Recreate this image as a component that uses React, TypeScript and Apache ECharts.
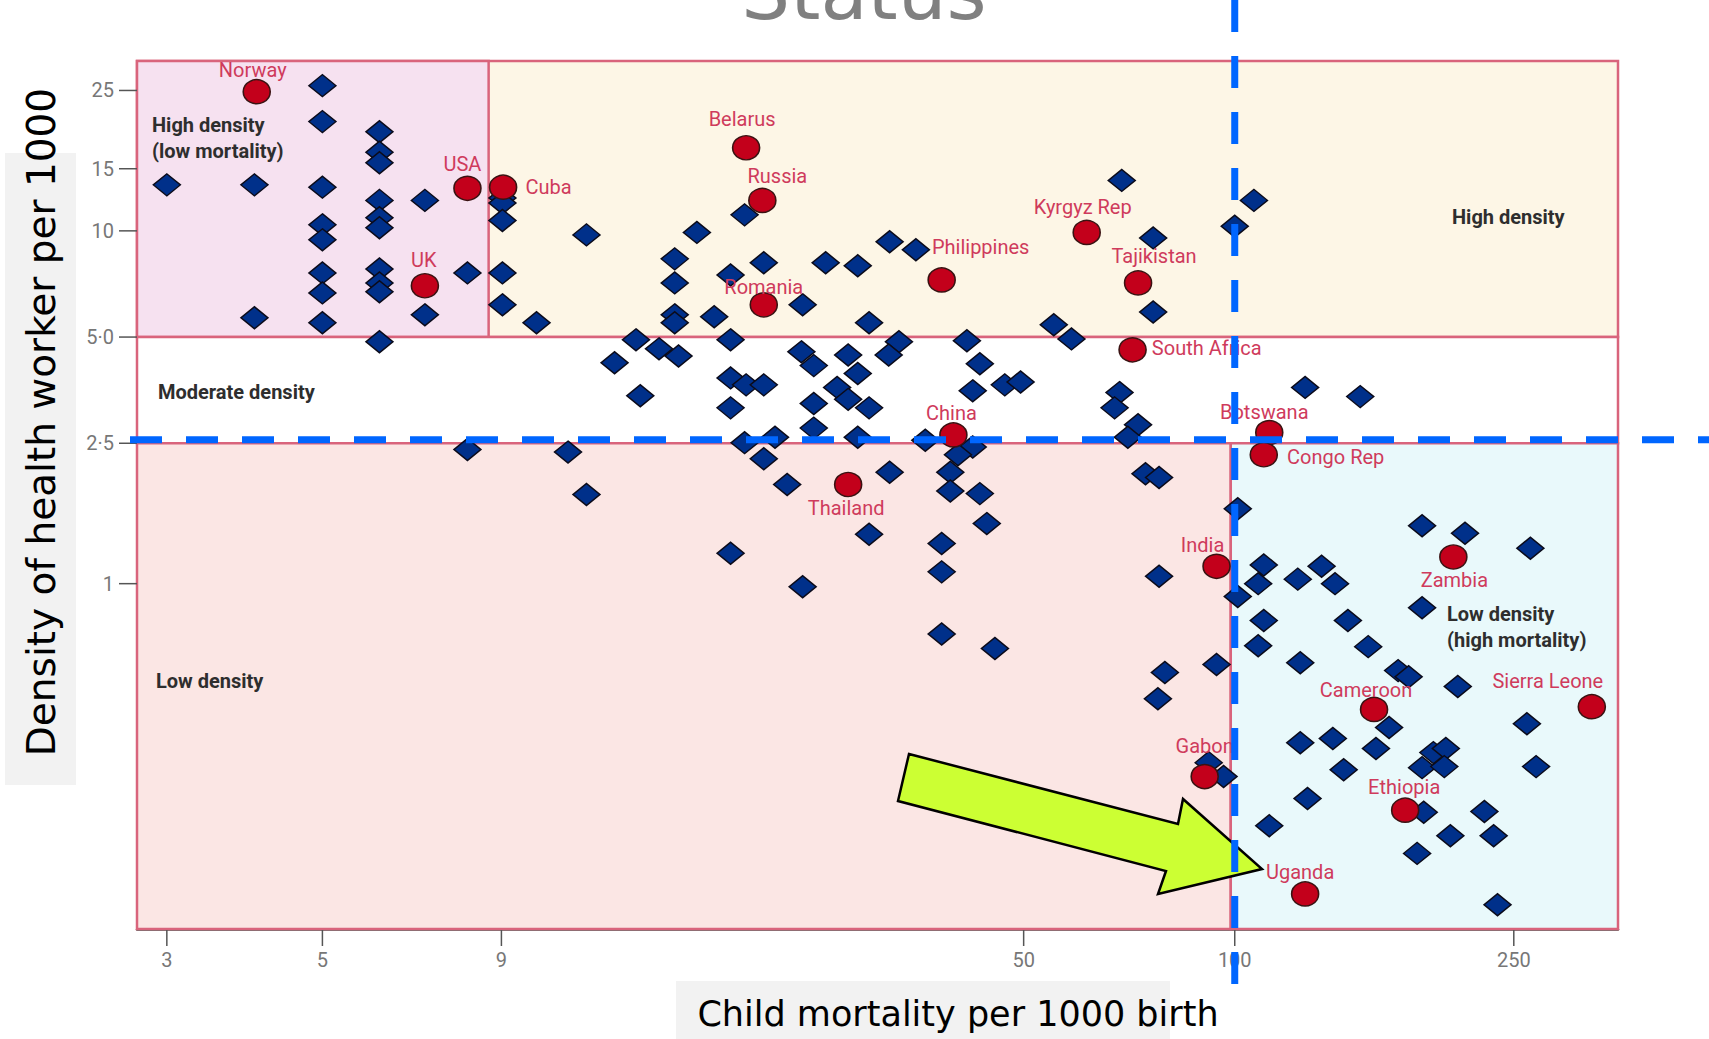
import React, { useEffect, useRef } from "react";
import * as echarts from "echarts";

// ---- axes ----
const xTicks = [3, 5, 9, 50, 100, 250];
const xTickLabels = ["3", "5", "9", "50", "100", "250"];
const yTicks = [1, 2.5, 5, 10, 15, 25];
const yTickLabels = ["1", "2·5", "5·0", "10", "15", "25"];
const xRange = [2.72, 352];
const yRange = [0.105, 30.3];

// ---- zone boundaries ----
const densityCuts = [2.5, 5];
const mortalityCuts = [8.63, 98.7];
const thresholdX = 100;
const thresholdY = 2.5;

// ---- highlighted countries ----
const countries = [
  "Norway", "USA", "Cuba", "UK", "Belarus", "Russia", "Romania", "Philippines",
  "Kyrgyz Rep", "Tajikistan", "South Africa", "China", "Thailand", "Botswana",
  "Congo Rep", "India", "Zambia", "Cameroon", "Sierra Leone", "Gabon", "Ethiopia", "Uganda",
];
const countryMortality = [
  4.03, 8.05, 9.05, 7.0, 20.1, 21.2, 21.3, 38.2,
  61.5, 72.8, 71.5, 39.7, 28.1, 112,
  110, 94.2, 205, 158, 323, 90.6, 175, 126,
];
const countryDensity = [
  24.8, 13.2, 13.3, 6.99, 17.2, 12.2, 6.17, 7.26,
  9.9, 7.12, 4.6, 2.64, 1.91, 2.68,
  2.32, 1.12, 1.19, 0.44, 0.448, 0.284, 0.228, 0.132,
];

// ---- other countries [mortality, density] ----
const otherHigh: [number, number][] = [
  [3.0, 13.5], [4.0, 13.5], [4.0, 5.67],
  [5.0, 25.8], [5.0, 20.4], [5.0, 13.3], [5.0, 10.4], [5.0, 9.43], [5.0, 7.6], [5.0, 6.67], [5.0, 5.49],
  [6.03, 19.1], [6.03, 16.7], [6.03, 15.6], [6.03, 12.2], [6.03, 10.9], [6.03, 10.2], [6.03, 7.8], [6.03, 7.12], [6.03, 6.72], [6.03, 4.85],
  [7.0, 12.2], [7.0, 5.78], [8.05, 7.6], [8.05, 2.4],
  [9.03, 12.4], [9.03, 12.0], [9.03, 10.7], [9.03, 7.6], [9.03, 6.17],
  [10.1, 5.49], [11.9, 9.74], [11.2, 2.36], [11.9, 1.79],
];
const otherMid: [number, number][] = [
  [20.0, 11.1], [17.1, 9.9], [15.9, 8.33], [15.9, 7.12], [19.1, 7.5], [21.3, 8.12], [26.1, 8.12], [29.0, 7.96],
  [32.2, 9.31], [35.1, 8.84], [24.2, 6.17], [15.9, 5.78], [15.9, 5.49], [18.1, 5.71], [30.1, 5.49],
  [14.0, 4.91], [15.1, 4.63], [16.1, 4.42], [19.1, 4.91], [13.05, 4.23], [24.1, 4.54], [25.1, 4.15], [28.1, 4.45],
  [33.2, 4.85], [32.1, 4.45], [41.5, 4.88], [43.3, 4.2], [47.0, 3.66], [42.3, 3.52], [14.2, 3.41], [19.1, 3.83],
  [20.1, 3.66], [21.3, 3.66], [19.1, 3.15], [27.1, 3.6], [28.1, 3.33], [29.0, 3.94], [30.1, 3.15], [25.1, 3.24],
  [25.1, 2.76], [29.0, 2.6], [36.2, 2.55], [42.3, 2.44], [40.3, 2.32], [39.3, 2.07], [39.3, 1.83], [43.3, 1.8],
  [20.0, 2.51], [22.1, 2.6], [21.3, 2.26], [23.0, 1.91], [32.2, 2.07],
  [44.3, 1.48], [30.1, 1.38], [38.2, 1.3], [19.1, 1.22], [38.2, 1.08], [24.2, 0.98], [38.2, 0.72], [45.5, 0.655],
  [49.5, 3.73], [68.5, 3.48], [67.4, 3.15], [72.8, 2.82], [70.4, 2.6], [74.6, 2.05], [78.0, 2.0],
  [69.0, 13.9], [76.5, 9.55], [76.5, 5.89], [55.2, 5.42], [58.5, 4.94], [106.5, 12.2], [100, 10.3], [126, 3.6], [151, 3.39],
];
const otherLow: [number, number][] = [
  [78.0, 1.05], [101, 1.63], [110, 1.13], [108, 1.0], [101, 0.92], [123, 1.03], [133, 1.12], [139, 1.0],
  [185, 1.46], [213, 1.39], [264, 1.26], [185, 0.855], [110, 0.786], [108, 0.667], [145, 0.786], [155, 0.663],
  [124, 0.597], [79.5, 0.56], [94.2, 0.59], [77.7, 0.472], [171, 0.567], [177, 0.545], [208, 0.511], [166, 0.391],
  [261, 0.401], [124, 0.354], [138, 0.364], [159, 0.341], [192, 0.332], [200, 0.341], [185, 0.301], [199, 0.303],
  [143, 0.297], [269, 0.303], [91.8, 0.311], [96.4, 0.284], [127, 0.246], [186, 0.225], [227, 0.226], [112, 0.206],
  [203, 0.193], [234, 0.193], [182, 0.172], [237, 0.123],
];

// ---- label placement (style only) ----
const labelPlacement: Record<string, { pos: string; off: [number, number] }> = {
  Norway: { pos: "top", off: [-4, 3] },
  USA: { pos: "top", off: [-5, 0] },
  Cuba: { pos: "right", off: [6, 0] },
  UK: { pos: "top", off: [-1, -1] },
  Belarus: { pos: "top", off: [-4, -4] },
  Russia: { pos: "top", off: [15, 0] },
  Romania: { pos: "top", off: [0, 7] },
  Philippines: { pos: "top", off: [39, -8] },
  "Kyrgyz Rep": { pos: "top", off: [-4, -1] },
  Tajikistan: { pos: "top", off: [16, -2] },
  "South Africa": { pos: "right", off: [3, -2] },
  China: { pos: "top", off: [-2, 3] },
  Thailand: { pos: "bottom", off: [-2, -1] },
  Botswana: { pos: "top", off: [-5, 4] },
  "Congo Rep": { pos: "right", off: [7, 2] },
  India: { pos: "top", off: [-14, 3] },
  Zambia: { pos: "bottom", off: [1, -2] },
  Cameroon: { pos: "top", off: [-8, 5] },
  "Sierra Leone": { pos: "top", off: [-44, -1] },
  Gabon: { pos: "top", off: [0, -6] },
  Ethiopia: { pos: "top", off: [-1, 2] },
  Uganda: { pos: "top", off: [-5, 3] },
};

const ZONE_BORDER = "#d9647c";

export default function App() {
  const ref = useRef<HTMLDivElement>(null);

  useEffect(() => {
    document.body.style.margin = "0";
    document.body.style.overflow = "hidden";
    const chart = echarts.init(ref.current!, undefined, { renderer: "svg" });
    const [xMin, xMax] = xRange;
    const [yMin, yMax] = yRange;
    const zone = (x1: number, y1: number, x2: number, y2: number, color: string) => [
      { coord: [x1, y1], itemStyle: { color, borderColor: ZONE_BORDER, borderWidth: 2.5 } },
      { coord: [x2, y2] },
    ];

    const option: any = {
      animation: false,
      grid: { left: 137, right: 91, top: 61, bottom: 110 },
      xAxis: {
        type: "log",
        logBase: 10,
        min: xMin,
        max: xMax,
        axisLine: { show: true, onZero: false, lineStyle: { color: "#4a4040", width: 2.5 } },
        axisTick: { show: false },
        axisLabel: { show: false },
        splitLine: { show: false },
        minorTick: { show: false },
      },
      yAxis: {
        type: "log",
        logBase: 10,
        min: yMin,
        max: yMax,
        axisLine: { show: true, onZero: false, lineStyle: { color: "#2a2a2a", width: 2 } },
        axisTick: { show: false },
        axisLabel: { show: false },
        splitLine: { show: false },
      },
      graphic: [
        { type: "rect", z: 0, shape: { x: 5, y: 153, width: 71, height: 632 }, style: { fill: "#f2f2f2" } },
        { type: "rect", z: 0, shape: { x: 676, y: 981, width: 494, height: 58 }, style: { fill: "#f2f2f2" } },
        {
          type: "text", z: 1, x: 41, y: 422, rotation: Math.PI / 2,
          style: { text: "Density of health worker per 1000", align: "center", verticalAlign: "middle", fill: "#000", font: "39px 'DejaVu Sans'" },
        },
        {
          type: "text", z: 1, x: 958, y: 1014,
          style: { text: "Child mortality per 1000 birth", align: "center", verticalAlign: "middle", fill: "#000", font: "35px 'DejaVu Sans'" },
        },
        {
          type: "text", z: 1, x: 864, y: 31,
          style: { text: "Status", align: "center", verticalAlign: "bottom", fill: "#808080", font: "77px 'DejaVu Sans'" },
        },
        {
          type: "text", z: 6, x: 152, y: 138,
          style: { text: "High density\n(low mortality)", verticalAlign: "middle", lineHeight: 26, fill: "#2e2e2e", font: "bold 20px Roboto" },
        },
        { type: "text", z: 6, x: 158, y: 392, style: { text: "Moderate density", verticalAlign: "middle", fill: "#2e2e2e", font: "bold 20px Roboto" } },
        { type: "text", z: 6, x: 156, y: 681, style: { text: "Low density", verticalAlign: "middle", fill: "#2e2e2e", font: "bold 20px Roboto" } },
        { type: "text", z: 6, x: 1452, y: 217, style: { text: "High density", verticalAlign: "middle", fill: "#2e2e2e", font: "bold 20px Roboto" } },
        {
          type: "text", z: 6, x: 1447, y: 627,
          style: { text: "Low density\n(high mortality)", verticalAlign: "middle", lineHeight: 26, fill: "#2e2e2e", font: "bold 20px Roboto" },
        },
        {
          type: "polygon", z: 6,
          shape: { points: [[909, 754], [1178, 824], [1183, 799], [1262, 869], [1158, 894], [1166, 871], [898, 801]] },
          style: { fill: "#ccff33", stroke: "#000", lineWidth: 2.5, lineJoin: "miter" },
        },
      ],
      series: [
        {
          type: "scatter",
          z: 1,
          silent: true,
          symbolSize: 0,
          data: [[xMin, yMin]],
          markArea: {
            silent: true,
            label: { show: false },
            data: [
              zone(xMin, densityCuts[1], xMax, yMax, "#fdf6e6"),
              zone(xMin, densityCuts[1], mortalityCuts[0], yMax, "#f6e1f0"),
              zone(xMin, densityCuts[0], xMax, densityCuts[1], "#ffffff"),
              zone(xMin, yMin, mortalityCuts[1], densityCuts[0], "#fbe6e4"),
              zone(mortalityCuts[1], yMin, xMax, densityCuts[0], "#e9f9fb"),
            ],
          },
        },
        {
          type: "scatter",
          z: 3,
          silent: true,
          symbol: "diamond",
          symbolSize: [27, 22],
          itemStyle: { color: "#00308a", borderColor: "#0b0b1a", borderWidth: 1.5, opacity: 1 },
          data: [...otherHigh, ...otherMid, ...otherLow],
        },
        {
          type: "scatter",
          z: 4,
          silent: true,
          symbol: "circle",
          symbolSize: [27, 24],
          itemStyle: { color: "#c3001b", borderColor: "#3a1212", borderWidth: 1.5, opacity: 1 },
          label: { show: true, formatter: "{b}", color: "#cf3b5c", fontFamily: "Roboto", fontSize: 20, distance: 2 },
          data: countries.map((name, i) => ({
            name,
            value: [countryMortality[i], countryDensity[i]],
            label: { position: labelPlacement[name].pos, offset: labelPlacement[name].off },
          })),
        },
        {
          type: "custom",
          z: 5,
          silent: true,
          clip: false,
          encode: { x: 0, y: 1 },
          data: xTicks.map((v) => [v, yMin]),
          renderItem: (params: any, api: any) => {
            const p = api.coord([api.value(0), api.value(1)]);
            return {
              type: "group",
              children: [
                { type: "line", shape: { x1: p[0], y1: p[1] + 1, x2: p[0], y2: p[1] + 17 }, style: { stroke: "#555", lineWidth: 1.5 } },
                {
                  type: "text",
                  style: { text: xTickLabels[params.dataIndex], x: p[0], y: p[1] + 21, align: "center", verticalAlign: "top", fill: "#777", font: "20px Roboto" },
                },
              ],
            };
          },
        },
        {
          type: "custom",
          z: 5,
          silent: true,
          clip: false,
          encode: { x: 0, y: 1 },
          data: yTicks.map((v) => [xMin, v]),
          renderItem: (params: any, api: any) => {
            const p = api.coord([api.value(0), api.value(1)]);
            return {
              type: "group",
              children: [
                { type: "line", shape: { x1: p[0] - 18, y1: p[1], x2: p[0], y2: p[1] }, style: { stroke: "#555", lineWidth: 1.5 } },
                {
                  type: "text",
                  style: { text: yTickLabels[params.dataIndex], x: p[0] - 23, y: p[1], align: "right", verticalAlign: "middle", fill: "#777", font: "20px Roboto" },
                },
              ],
            };
          },
        },
        {
          type: "custom",
          z: 10,
          silent: true,
          clip: false,
          encode: { x: 0, y: 1 },
          data: [[thresholdX, thresholdY]],
          renderItem: (params: any, api: any) => {
            const p = api.coord([api.value(0), api.value(1)]);
            const dash = { stroke: "#0066ff", lineWidth: 7, lineDash: [32, 24] };
            return {
              type: "group",
              children: [
                { type: "line", shape: { x1: 130, y1: p[1] - 3.5, x2: api.getWidth(), y2: p[1] - 3.5 }, style: dash },
                { type: "line", shape: { x1: p[0], y1: 0, x2: p[0], y2: 991 }, style: dash },
              ],
            };
          },
        },
      ],
    };
    chart.setOption(option);
    return () => chart.dispose();
  }, []);

  return <div ref={ref} style={{ position: "absolute", left: 0, top: 0, width: 1709, height: 1039 }} />;
}
